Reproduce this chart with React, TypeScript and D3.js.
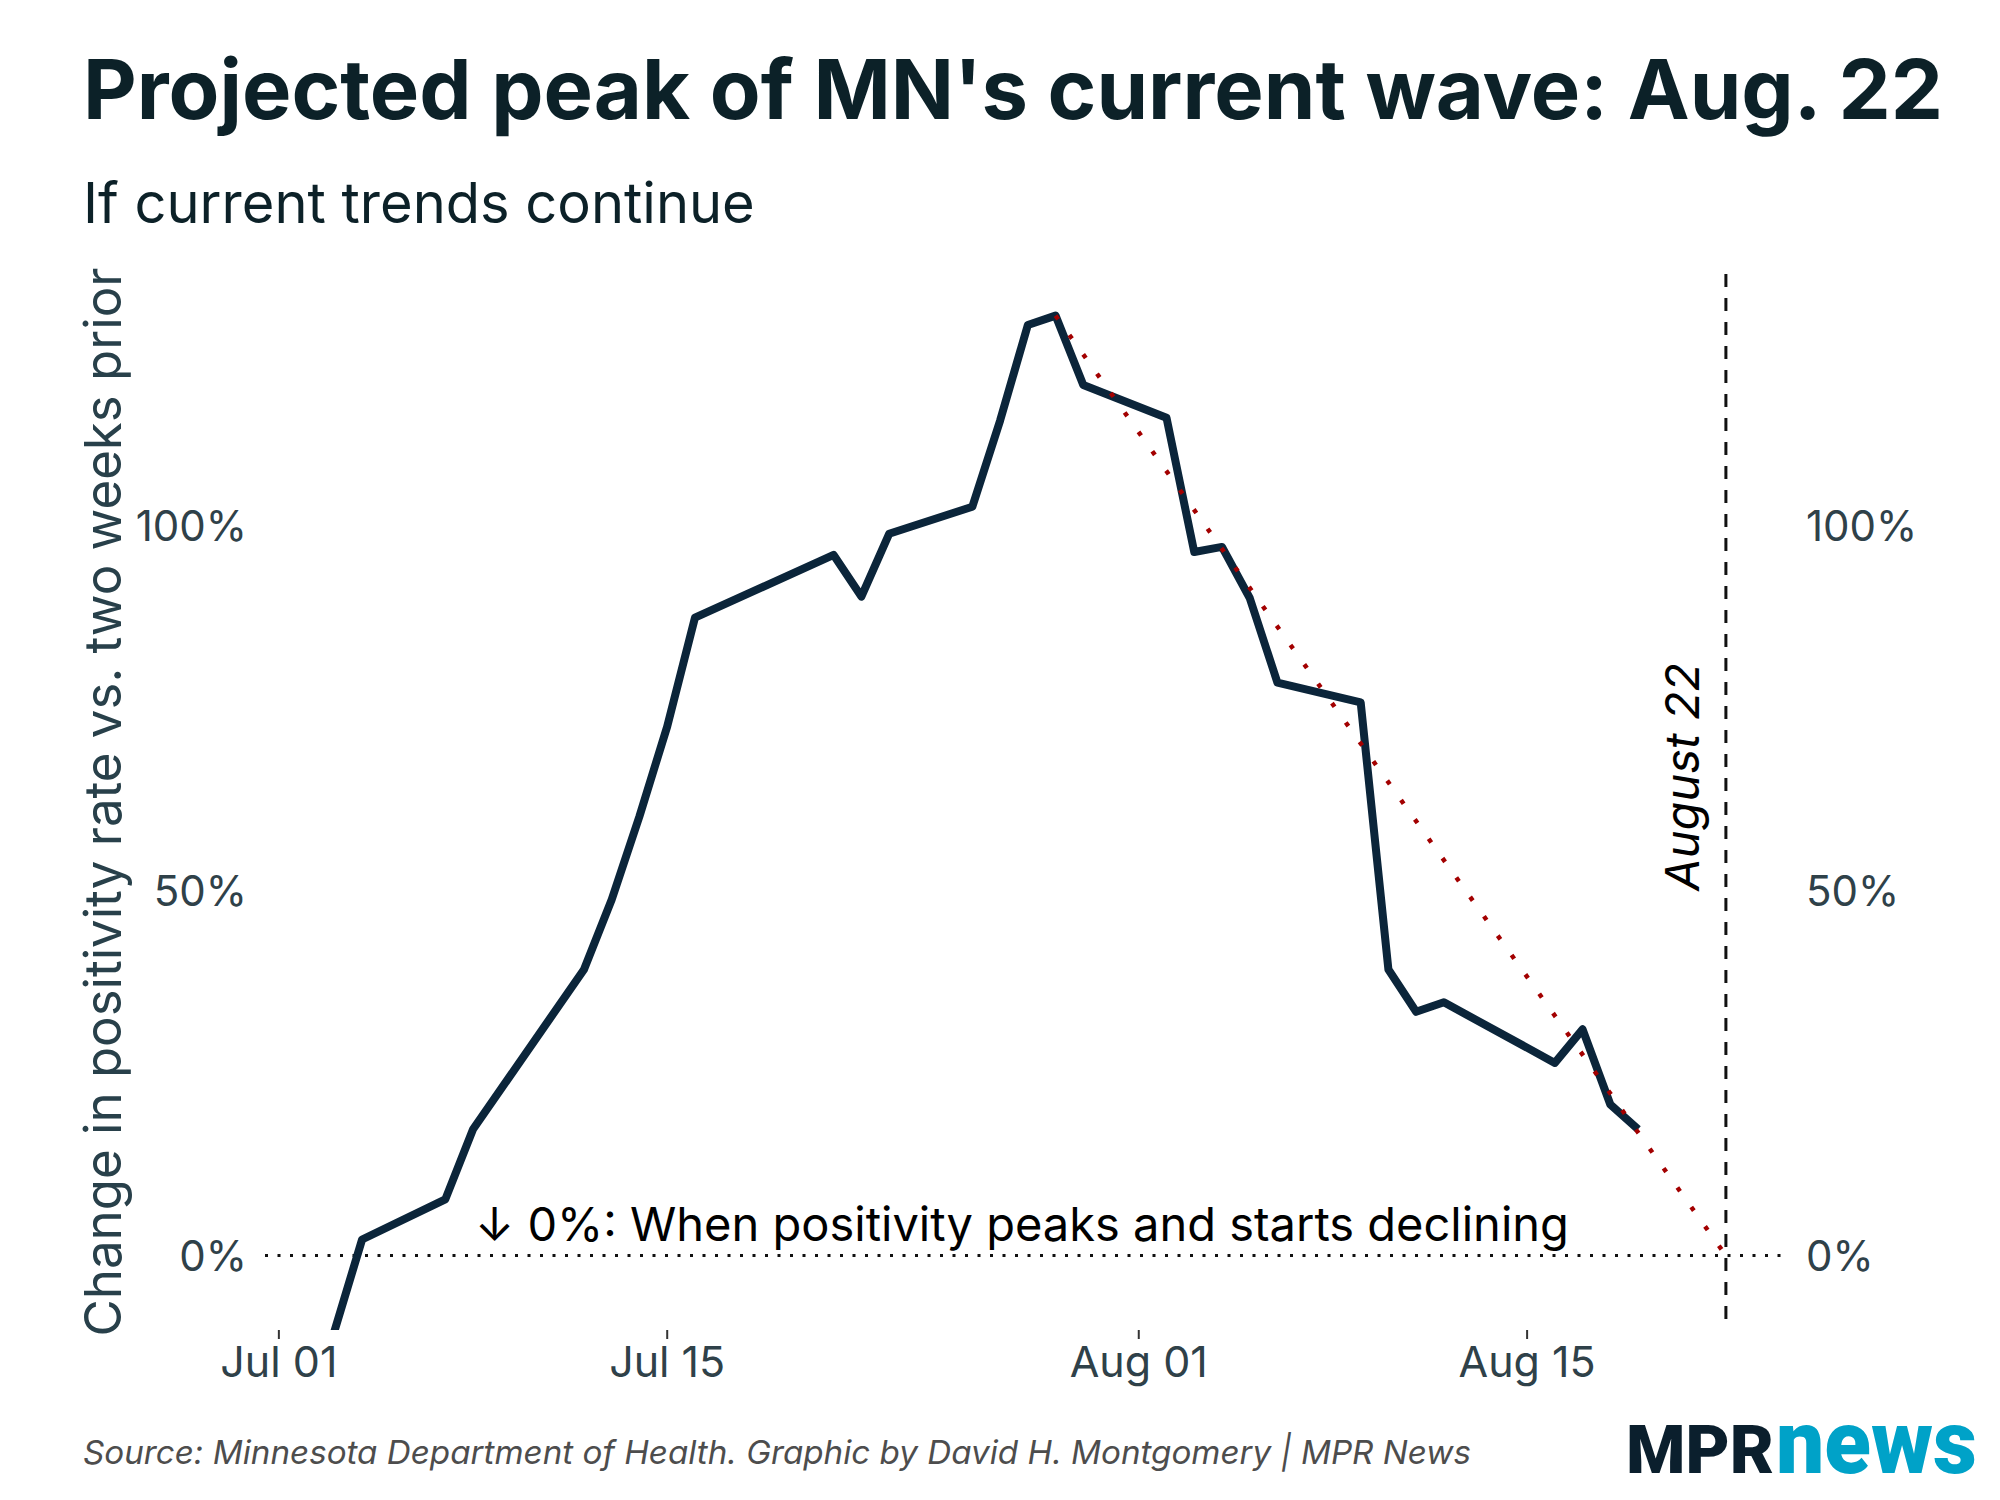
import React from "react";
import * as d3 from "d3";

// ---- Data ----
const dates = [
  "2021-07-03", "2021-07-04", "2021-07-07", "2021-07-08", "2021-07-12", "2021-07-13",
  "2021-07-14", "2021-07-15", "2021-07-16", "2021-07-21", "2021-07-22", "2021-07-23",
  "2021-07-26", "2021-07-27", "2021-07-28", "2021-07-29", "2021-07-30", "2021-08-02",
  "2021-08-03", "2021-08-04", "2021-08-05", "2021-08-06", "2021-08-09", "2021-08-10",
  "2021-08-11", "2021-08-12", "2021-08-16", "2021-08-17", "2021-08-18", "2021-08-19",
];
const values = [
  -10.4, 2.2, 7.7, 17.3, 39.2, 48.8,
  60.2, 72.5, 87.4, 96.0, 90.3, 98.9,
  102.6, 114.4, 127.5, 128.8, 119.3, 114.8,
  96.4, 97.1, 90.1, 78.5, 75.8, 39.2,
  33.4, 34.7, 26.4, 31.0, 20.7, 17.3,
];
const projectionDates = ["2021-07-29T00:00", "2021-08-22T04:00"];
const projectionValues = [128.8, 0];
const xTickDates = ["2021-07-01", "2021-07-15", "2021-08-01", "2021-08-15"];
const yTickValues = [0, 50, 100];
const xDomain = ["2021-06-30T12:00", "2021-08-24T08:00"];
const yDomain = [-10.2, 134.5];
const annotationDate = "2021-07-08";
const annotationValue = 2;
const peakLabelValue = 50;

const parseDay = d3.timeParse("%Y-%m-%d");
const parseTime = d3.timeParse("%Y-%m-%dT%H:%M");

const W = 2000;
const H = 1500;
const panel = { left: 265, right: 1786, top: 274, bottom: 1330 };

const FONT = "Inter, 'Noto Sans', sans-serif";

export default function App() {
  const x = d3
    .scaleTime()
    .domain(xDomain.map((d) => parseTime(d) as Date))
    .range([panel.left, panel.right]);
  const y = d3.scaleLinear().domain(yDomain).range([panel.bottom, panel.top]);

  const series = dates.map((d, i) => ({ date: parseDay(d) as Date, value: values[i] }));
  const proj = projectionDates.map((d, i) => ({ date: parseTime(d) as Date, value: projectionValues[i] }));

  const line = d3
    .line<{ date: Date; value: number }>()
    .x((d) => x(d.date))
    .y((d) => y(d.value));

  const fmt = d3.timeFormat("%b %d");
  const projX = x(proj[1].date);

  return (
    <svg
      width={W}
      height={H}
      viewBox={`0 0 ${W} ${H}`}
      style={{ position: "absolute", left: 0, top: 0, background: "#fff", display: "block" }}
    >
      <rect x={0} y={0} width={W} height={H} fill="#fff" />
      <defs>
        <clipPath id="panel-clip">
          <rect x={panel.left} y={panel.top} width={panel.right - panel.left} height={panel.bottom - panel.top} />
        </clipPath>
      </defs>

      {/* Title & subtitle */}
      <text x={83} y={119} fontFamily={FONT} fontWeight={700} fontSize={83} fill="#0c2128">
        Projected peak of MN's current wave: Aug. 22
      </text>
      <text x={83} y={223} fontFamily={FONT} fontWeight={400} fontSize={56} fill="#0c2128">
        If current trends continue
      </text>

      {/* Y-axis title */}
      <text
        transform={`translate(121, ${(panel.top + panel.bottom) / 2}) rotate(-90)`}
        textAnchor="middle"
        fontFamily={FONT}
        fontSize={51}
        fill="#28404a"
      >
        Change in positivity rate vs. two weeks prior
      </text>

      {/* Y tick labels, left and right */}
      {yTickValues.map((v) => (
        <g key={v}>
          <text x={247} y={y(v)} dy="0.36em" textAnchor="end" fontFamily={FONT} fontSize={42} fill="#2f4149">
            {v}%
          </text>
          <text x={1806} y={y(v)} dy="0.36em" textAnchor="start" fontFamily={FONT} fontSize={42} fill="#2f4149">
            {v}%
          </text>
        </g>
      ))}

      {/* Zero reference line */}
      <line
        x1={panel.left}
        x2={panel.right}
        y1={y(0)}
        y2={y(0)}
        stroke="#111"
        strokeWidth={3}
        strokeDasharray="3 9.5"
      />

      {/* X axis ticks and labels */}
      {xTickDates.map((d) => {
        const xd = x(parseDay(d) as Date);
        return (
          <g key={d}>
            <line x1={xd} x2={xd} y1={panel.bottom} y2={panel.bottom + 9} stroke="#333" strokeWidth={2} />
            <text x={xd} y={1377} textAnchor="middle" fontFamily={FONT} fontSize={43} fill="#2f4149">
              {fmt(parseDay(d) as Date)}
            </text>
          </g>
        );
      })}

      {/* Aug 22 vertical dashed line */}
      <line
        x1={projX}
        x2={projX}
        y1={panel.top}
        y2={panel.bottom}
        stroke="#111"
        strokeWidth={3}
        strokeDasharray="13 11"
      />
      <text
        transform={`translate(${projX - 27}, ${y(peakLabelValue)}) rotate(-90)`}
        textAnchor="start"
        fontFamily={FONT}
        fontStyle="italic"
        fontSize={47}
        fill="#000"
      >
        August 22
      </text>

      {/* Annotation */}
      <text
        x={x(parseDay(annotationDate) as Date) + 2}
        y={y(annotationValue)}
        fontFamily={FONT}
        fontSize={47}
        fill="#000"
      >
        ↓ 0%: When positivity peaks and starts declining
      </text>

      {/* Data line */}
      <g clipPath="url(#panel-clip)">
        <path
          d={line(series) || ""}
          fill="none"
          stroke="#0b253a"
          strokeWidth={8}
          strokeLinejoin="round"
          strokeLinecap="butt"
        />
        <path
          d={line(proj) || ""}
          fill="none"
          stroke="#a30000"
          strokeWidth={4.5}
          strokeDasharray="4.5 19.3"
        />
      </g>

      {/* Source */}
      <text x={83} y={1464} fontFamily={FONT} fontStyle="italic" fontSize={33.2} fill="#4d4d4d">
        Source: Minnesota Department of Health. Graphic by David H. Montgomery | MPR News
      </text>

      {/* MPR news logo */}
      <text
        x={1626}
        y={1473}
        fontFamily="Roboto, Inter, sans-serif"
        fontWeight={900}
        fontSize={66}
        fill="#0b1f2d"
        textLength={148}
        lengthAdjust="spacingAndGlyphs"
      >
        MPR
      </text>
      <text
        x={1776}
        y={1473}
        fontFamily="Roboto, Inter, sans-serif"
        fontWeight={900}
        fontSize={89}
        fill="#00a2c8"
        textLength={201}
        lengthAdjust="spacingAndGlyphs"
      >
        news
      </text>
    </svg>
  );
}
